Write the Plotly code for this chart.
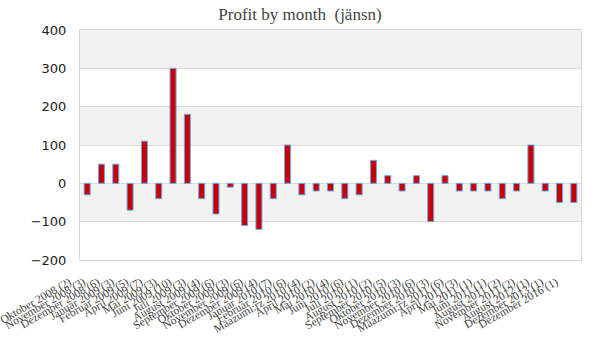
import plotly.graph_objects as go

months = [
    "Oktober 2008 (2)", "November 2008 (3)", "Dezember 2008 (6)", "Januar 2009 (3)",
    "Februar 2009 (5)", "April 2009 (7)", "Mai 2009 (3)", "Juni 2009 (10)",
    "Juli 2009 (3)", "August 2009 (4)", "September 2009 (6)", "Oktober 2009 (3)",
    "November 2009 (6)", "Dezember 2009 (4)", "Januar 2010 (7)", "Februar 2010 (6)",
    "Mäazumi:rz 2010 (4)", "April 2010 (2)", "Mai 2010 (4)", "Juni 2010 (6)",
    "Juli 2010 (1)", "August 2010 (2)", "September 2010 (5)", "Oktober 2010 (3)",
    "November 2010 (6)", "Dezember 2010 (3)", "Mäazumi:rz 2011 (6)", "April 2011 (3)",
    "Mai 2011 (1)", "Juni 2011 (1)", "August 2011 (2)", "November 2011 (2)",
    "August 2012 (1)", "Dezember 2013 (1)", "Dezember 2016 (1)",
]
profit = [
    -30, 50, 50, -70, 110, -40, 300, 180, -40, -80, -10, -110, -120, -40, 100, -30,
    -20, -20, -40, -30, 60, 20, -20, 20, -100, 20, -20, -20, -20, -40, -20, 100,
    -20, -50, -50,
]
y_ticks = [-200, -100, 0, 100, 200, 300, 400]

fig = go.Figure()
fig.add_trace(go.Bar(
    x=months, y=profit,
    marker=dict(color="#c80000", line=dict(color="#62a8f5", width=1)),
    width=0.42,
))

shapes = []
for lo in [300, 100, -100]:
    shapes.append(dict(type="rect", xref="paper", yref="y", x0=0, x1=1, y0=lo, y1=lo + 100,
                       fillcolor="#f2f2f2", line=dict(width=0), layer="below"))

fig.update_layout(
    width=600, height=360,
    margin=dict(l=80, r=19, t=30, b=100),
    paper_bgcolor="white", plot_bgcolor="white",
    title=dict(text="Profit by month  (jänsn)", x=0.5, xanchor="center", y=1 - 14 / 360, yanchor="middle",
               font=dict(family="Liberation Serif", size=17, color="#444444")),
    shapes=shapes,
    showlegend=False,
)
fig.update_xaxes(
    tickmode="array", tickvals=months, ticktext=months, tickangle=-30,
    tickfont=dict(family="Liberation Serif", size=11.5, color="#444444"),
    showline=True, linecolor="#d9d9d9", mirror=True, showgrid=False, ticks="",
    automargin=False, ticklabelshift=-18, ticklabelstandoff=10,
)
fig.update_yaxes(
    range=[-200, 400], tickvals=y_ticks, showgrid=True, gridcolor="#dcdcdc",
    zeroline=True, zerolinecolor="#dcdcdc", zerolinewidth=1,
    showline=True, linecolor="#d9d9d9", mirror=True, automargin=False,
    tickfont=dict(family="DejaVu Sans", size=13, color="#222222"),
    ticklabelstandoff=10,
)
fig.write_html("out.html", config={"displayModeBar": False},
               post_script="document.body.style.margin='0';")
